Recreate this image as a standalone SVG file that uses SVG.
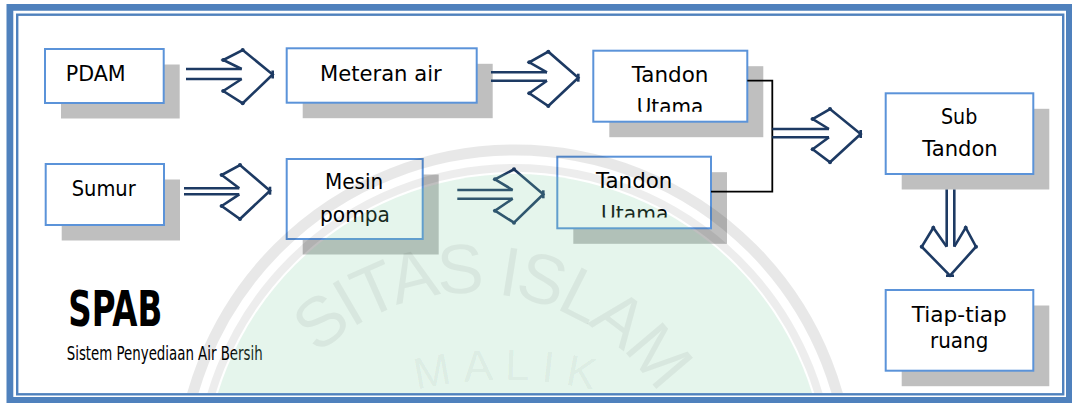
<svg xmlns="http://www.w3.org/2000/svg" width="1072" height="403" viewBox="0 0 1072 403">
  <style>
    .shadow { fill: #bfbfbf; }
    .box { fill: #ffffff; stroke: #5b93d9; stroke-width: 2; }
    .label { font-family: "DejaVu Sans", Verdana, sans-serif; font-size: 22px; fill: #000000; }
    .flow { fill: none; stroke: #1d3a63; stroke-width: 2.6; stroke-linejoin: miter; }
    .dot { fill: #1d3a63; }
    .link { fill: none; stroke: #000000; stroke-width: 1.8; }
    .mark { fill: #000000; fill-opacity: 0.055; font-family: "Liberation Sans", Arial, sans-serif; }
  </style>
  <defs>
    <clipPath id="frameClip">
      <rect x="18.4" y="15.9" width="1043.6" height="377.2"/>
    </clipPath>
    <clipPath id="clipTandon1">
      <rect x="594" y="51" width="153" height="60.8"/>
    </clipPath>
    <clipPath id="clipTandon2">
      <rect x="558" y="157" width="152" height="60.5"/>
    </clipPath>
    <path id="arcOuter" d="M 250,515 A 222,222 0 0 1 694,515"/>
    <path id="arcInner" d="M 105,780 A 400,400 0 0 1 905,780"/>
  </defs>

  <!-- frame -->
  <path d="M6.5,4 H1072 V403 H6.5 Z M13.3,10.7 V397 H1066 V10.7 Z" fill="#4f81bd" fill-rule="evenodd"/>
  <rect x="17.2" y="14.7" width="1046" height="379.6" fill="#ffffff" stroke="#4f81bd" stroke-width="2.4"/>

  <!-- PDAM -->
  <g id="pdam">
    <rect class="shadow" x="61" y="64.5" width="118.7" height="54"/>
    <rect class="box" x="45" y="49" width="118.7" height="54"/>
    <text class="label" x="65.7" y="81" font-size="23" textLength="60" lengthAdjust="spacingAndGlyphs">PDAM</text>
  </g>

  <!-- Meteran air -->
  <g id="meteran">
    <rect class="shadow" x="302.7" y="63.8" width="190" height="54.4"/>
    <rect class="box" x="286.7" y="48.3" width="190" height="54.4"/>
    <text class="label" x="320" y="80.7" textLength="121.7" lengthAdjust="spacingAndGlyphs">Meteran air</text>
  </g>

  <!-- Tandon Utama (upper) -->
  <g id="tandon1">
    <rect class="shadow" x="609.3" y="66.2" width="154" height="71"/>
    <rect class="box" x="593.3" y="50.7" width="154" height="71"/>
    <text class="label" x="631.7" y="81.7" textLength="76.7" lengthAdjust="spacingAndGlyphs">Tandon</text>
    <text class="label" x="636.7" y="114" textLength="66.6" lengthAdjust="spacingAndGlyphs" clip-path="url(#clipTandon1)">Utama</text>
  </g>

  <!-- Sumur -->
  <g id="sumur">
    <rect class="shadow" x="61.7" y="179.5" width="118.3" height="61"/>
    <rect class="box" x="45.7" y="164" width="118.3" height="61"/>
    <text class="label" x="71.7" y="195.7" textLength="64" lengthAdjust="spacingAndGlyphs">Sumur</text>
  </g>

  <!-- Mesin pompa -->
  <g id="mesin">
    <rect class="shadow" x="302.7" y="174.5" width="136" height="80"/>
    <rect class="box" x="286.7" y="159" width="136" height="80"/>
    <text class="label" x="325" y="189.3" textLength="58.3" lengthAdjust="spacingAndGlyphs">Mesin</text>
    <text class="label" x="320" y="221.7" textLength="70" lengthAdjust="spacingAndGlyphs">pompa</text>
  </g>

  <!-- Tandon Utama (lower) -->
  <g id="tandon2">
    <rect class="shadow" x="573.3" y="172.2" width="153.7" height="71.6"/>
    <rect class="box" x="557.3" y="156.7" width="153.7" height="71.6"/>
    <text class="label" x="596" y="187.7" textLength="76.3" lengthAdjust="spacingAndGlyphs">Tandon</text>
    <text class="label" x="601" y="221" textLength="67.3" lengthAdjust="spacingAndGlyphs" clip-path="url(#clipTandon2)">Utama</text>
  </g>

  <!-- Sub Tandon -->
  <g id="subtandon">
    <rect class="shadow" x="901.7" y="108.8" width="147.6" height="80.7"/>
    <rect class="box" x="885.7" y="93.3" width="147.6" height="80.7"/>
    <text class="label" x="941" y="124.3" textLength="36.3" lengthAdjust="spacingAndGlyphs">Sub</text>
    <text class="label" x="922.3" y="156" textLength="75.4" lengthAdjust="spacingAndGlyphs">Tandon</text>
  </g>

  <!-- Tiap-tiap ruang -->
  <g id="ruang">
    <rect class="shadow" x="901.7" y="305.5" width="147.6" height="80.7"/>
    <rect class="box" x="885.7" y="290" width="147.6" height="80.7"/>
    <text class="label" x="911.7" y="321.7" textLength="95" lengthAdjust="spacingAndGlyphs">Tiap-tiap</text>
    <text class="label" x="930" y="348.3" textLength="58.3" lengthAdjust="spacingAndGlyphs">ruang</text>
  </g>

  <!-- title -->
  <g id="title">
    <text x="68.3" y="325.7" font-family="'Liberation Sans Narrow', 'DejaVu Sans Condensed', 'Liberation Sans', sans-serif" font-weight="bold" font-size="50" textLength="94" lengthAdjust="spacingAndGlyphs" fill="#000">SPAB</text>
    <text x="66.7" y="360" font-family="'Liberation Sans Narrow', 'DejaVu Sans Condensed', 'Liberation Sans', sans-serif" font-size="20" textLength="196" lengthAdjust="spacingAndGlyphs" fill="#000">Sistem Penyediaan Air Bersih</text>
  </g>

  <!-- connectors -->
  <g id="connectors">
    <!-- tank outlets joined to one feed -->
    <polyline class="link" points="747.3,80.7 772.3,80.7 772.3,191.7 711,191.7"/>

    <!-- PDAM to Meteran air -->
    <line class="flow" x1="186" y1="69" x2="241.7" y2="69"/>
    <line class="flow" x1="186" y1="79" x2="241.7" y2="79"/>
    <polyline class="flow" points="241.7,69 223.3,60 242.7,50 272.7,74.5 242.7,103.3 223.3,91 241.7,79"/>
    <line class="flow" x1="272.7" y1="70.5" x2="272.7" y2="78.5"/>
    <circle class="dot" cx="223.3" cy="60" r="2"/><circle class="dot" cx="242.7" cy="50" r="2"/>
    <circle class="dot" cx="242.7" cy="103.3" r="2"/><circle class="dot" cx="223.3" cy="91" r="2"/>

    <!-- Meteran air to Tandon Utama -->
    <line class="flow" x1="491" y1="72.3" x2="547" y2="72.3"/>
    <line class="flow" x1="491" y1="80.7" x2="547" y2="80.7"/>
    <polyline class="flow" points="547,72.3 529.3,62.3 548.3,51.7 578.3,77.7 548.3,106 529.3,93.3 547,80.7"/>
    <line class="flow" x1="578.3" y1="73.7" x2="578.3" y2="81.7"/>
    <circle class="dot" cx="529.3" cy="62.3" r="2"/><circle class="dot" cx="548.3" cy="51.7" r="2"/>
    <circle class="dot" cx="548.3" cy="106" r="2"/><circle class="dot" cx="529.3" cy="93.3" r="2"/>

    <!-- Sumur to Mesin pompa -->
    <line class="flow" x1="184" y1="188.3" x2="239.3" y2="188.3"/>
    <line class="flow" x1="184" y1="194.3" x2="239.3" y2="194.3"/>
    <polyline class="flow" points="239.3,188.3 221.7,175 240,165 270,190.7 240,219 221.7,206 239.3,194.3"/>
    <line class="flow" x1="270" y1="186.7" x2="270" y2="194.7"/>
    <circle class="dot" cx="221.7" cy="175" r="2"/><circle class="dot" cx="240" cy="165" r="2"/>
    <circle class="dot" cx="240" cy="219" r="2"/><circle class="dot" cx="221.7" cy="206" r="2"/>

    <!-- Mesin pompa to Tandon Utama -->
    <line class="flow" x1="457.3" y1="190" x2="512.7" y2="190"/>
    <line class="flow" x1="457.3" y1="198.7" x2="512.7" y2="198.7"/>
    <polyline class="flow" points="512.7,190 495,179.3 514,169.3 543.3,194.3 514,222.7 495,210.7 512.7,198.7"/>
    <line class="flow" x1="543.3" y1="190.3" x2="543.3" y2="198.3"/>
    <circle class="dot" cx="495" cy="179.3" r="2"/><circle class="dot" cx="514" cy="169.3" r="2"/>
    <circle class="dot" cx="514" cy="222.7" r="2"/><circle class="dot" cx="495" cy="210.7" r="2"/>

    <!-- joined feed to Sub Tandon -->
    <line class="flow" x1="772.3" y1="129" x2="829" y2="129"/>
    <line class="flow" x1="772.3" y1="137.3" x2="829" y2="137.3"/>
    <polyline class="flow" points="829,129 812.7,119 830,109 860.7,134 830,162.3 812.7,149.3 829,137.3"/>
    <line class="flow" x1="860.7" y1="130" x2="860.7" y2="138"/>
    <circle class="dot" cx="812.7" cy="119" r="2"/><circle class="dot" cx="830" cy="109" r="2"/>
    <circle class="dot" cx="830" cy="162.3" r="2"/><circle class="dot" cx="812.7" cy="149.3" r="2"/>

    <!-- Sub Tandon to Tiap-tiap ruang -->
    <line class="flow" x1="946.7" y1="189.5" x2="946.7" y2="246.7"/>
    <line class="flow" x1="954.3" y1="189.5" x2="954.3" y2="246.7"/>
    <polyline class="flow" points="946.7,246.7 933.3,227.7 921.7,246.7 950,275.7 976,246.7 965.7,227.7 954.3,246.7"/>
    <line class="flow" x1="946" y1="275.7" x2="954" y2="275.7"/>
    <circle class="dot" cx="933.3" cy="227.7" r="2"/><circle class="dot" cx="921.7" cy="246.7" r="2"/>
    <circle class="dot" cx="976" cy="246.7" r="2"/><circle class="dot" cx="965.7" cy="227.7" r="2"/>
  </g>

  <!-- faint seal printed over the page -->
  <g id="seal" clip-path="url(#frameClip)">
    <circle cx="515" cy="485" r="311" fill="#7fcf9f" fill-opacity="0.2"/>
    <circle cx="515" cy="485" r="335" fill="none" stroke="#000" stroke-opacity="0.09" stroke-width="11"/>
    <circle cx="515" cy="485" r="317" fill="none" stroke="#000" stroke-opacity="0.07" stroke-width="8"/>
    <text class="mark" font-size="70"><textPath href="#arcOuter" startOffset="178" textLength="392" lengthAdjust="spacing">SITAS ISLAM</textPath></text>
    <text class="mark" font-size="44"><textPath href="#arcInner" startOffset="539" textLength="178" lengthAdjust="spacing">MALIK</textPath></text>
  </g>
</svg>
